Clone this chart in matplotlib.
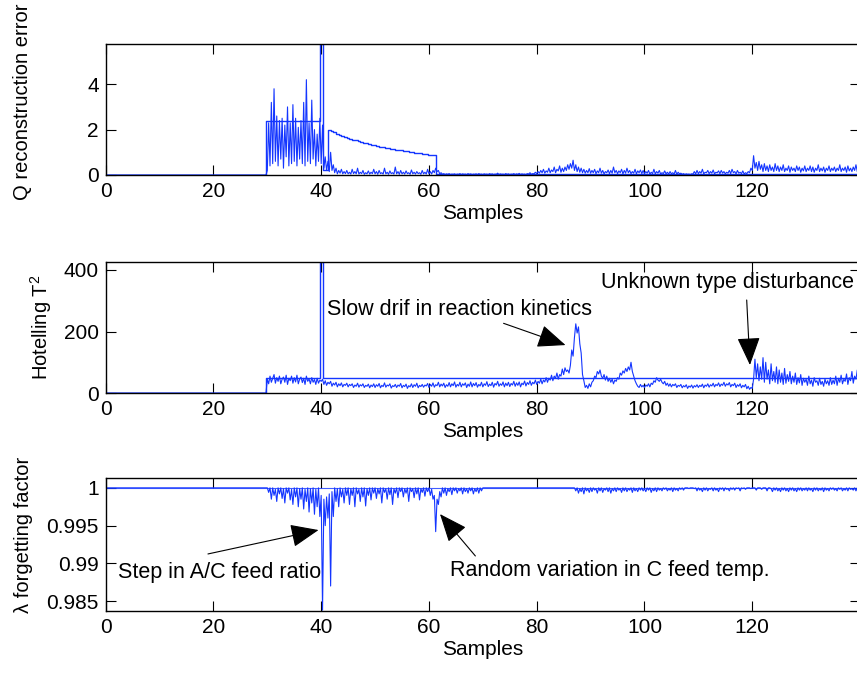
import numpy as np
import matplotlib.pyplot as plt

plt.rcParams['font.family'] = ['Liberation Sans', 'DejaVu Sans']
plt.rcParams['mathtext.fontset'] = 'custom'
plt.rcParams['mathtext.rm'] = 'Liberation Sans'
plt.rcParams['mathtext.it'] = 'Liberation Sans:italic'

# Samples (step 0.25) for the monitored signals
samples = np.arange(0, 140.25, 0.25)
# Samples (step 0.5) for the control limits
lim_samples = np.arange(0, 140.5, 0.5)

# Q reconstruction error
q_err = [0.0] * 120 + [
    0.2, 2.3, 0.4, 3.2, 0.5, 3.8, 0.6, 2.6, 0.4, 2.4, 0.7, 2.5, 0.3, 2.2, 0.8, 3.0, 0.4, 2.3, 0.5, 3.1,
    0.6, 2.5, 0.4, 2.1, 0.7, 2.4, 0.5, 3.2, 0.4, 4.2, 0.6, 2.3, 0.5, 3.3, 0.7, 2.0, 0.4, 1.8, 0.6, 2.5,
    0.5, 2.2, 0.3, 0.8, 0.2, 0.6, 0.15, 1.0, 0.2, 0.45, 0.1, 0.3, 0.05, 0.2, 0.08, 0.25, 0.05, 0.15, 0.06, 0.2,
    0.05, 0.12, 0.04, 0.25, 0.06, 0.15, 0.05, 0.3, 0.04, 0.12, 0.06, 0.2, 0.03, 0.1, 0.05, 0.18, 0.04, 0.12, 0.06, 0.25,
    0.05, 0.15, 0.03, 0.2, 0.06, 0.1, 0.04, 0.3, 0.05, 0.12, 0.03, 0.18, 0.06, 0.1, 0.04, 0.35, 0.05, 0.15, 0.03, 0.2,
    0.05, 0.12, 0.04, 0.18, 0.06, 0.1, 0.03, 0.22, 0.05, 0.12, 0.04, 0.15, 0.06, 0.1, 0.03, 0.2, 0.05, 0.12, 0.04, 0.25,
    0.05, 0.15, 0.04, 0.2, 0.1, 0.3, 0.15, 0.2, 0.05, 0.1, 0.03, 0.06, 0.02, 0.05, 0.03, 0.06, 0.02, 0.04, 0.03, 0.05,
    0.02, 0.04, 0.03, 0.06, 0.02, 0.05, 0.03, 0.04, 0.02, 0.06, 0.03, 0.05, 0.02, 0.04, 0.03, 0.05, 0.02, 0.06, 0.03, 0.04,
    0.02, 0.05, 0.03, 0.04, 0.02, 0.06, 0.03, 0.05, 0.02, 0.04, 0.03, 0.08, 0.02, 0.05, 0.03, 0.04, 0.02, 0.06, 0.03, 0.05,
    0.02, 0.04, 0.03, 0.06, 0.02, 0.05, 0.03, 0.07, 0.02, 0.05, 0.03, 0.04, 0.02, 0.06, 0.04, 0.1, 0.03, 0.06, 0.05, 0.12,
    0.06, 0.15, 0.08, 0.2, 0.1, 0.25, 0.08, 0.18, 0.12, 0.3, 0.1, 0.22, 0.15, 0.35, 0.1, 0.25, 0.18, 0.4, 0.12, 0.3,
    0.15, 0.35, 0.2, 0.45, 0.25, 0.5, 0.3, 0.65, 0.2, 0.45, 0.15, 0.35, 0.12, 0.3, 0.1, 0.25, 0.08, 0.2, 0.1, 0.28,
    0.08, 0.2, 0.1, 0.25, 0.06, 0.18, 0.1, 0.3, 0.08, 0.2, 0.05, 0.15, 0.1, 0.22, 0.06, 0.2, 0.08, 0.35, 0.1, 0.2,
    0.06, 0.18, 0.1, 0.25, 0.05, 0.2, 0.08, 0.3, 0.1, 0.2, 0.06, 0.15, 0.08, 0.25, 0.05, 0.18, 0.1, 0.22, 0.06, 0.2,
    0.05, 0.15, 0.08, 0.2, 0.04, 0.12, 0.06, 0.25, 0.05, 0.15, 0.08, 0.2, 0.04, 0.1, 0.06, 0.18, 0.05, 0.12, 0.04, 0.15,
    0.05, 0.1, 0.04, 0.2, 0.03, 0.12, 0.05, 0.08, 0.03, 0.06, 0.02, 0.05, 0.03, 0.04, 0.02, 0.05, 0.04, 0.15, 0.05, 0.2,
    0.06, 0.15, 0.08, 0.25, 0.05, 0.12, 0.1, 0.2, 0.06, 0.15, 0.08, 0.22, 0.05, 0.12, 0.1, 0.18, 0.06, 0.2, 0.08, 0.15,
    0.05, 0.12, 0.08, 0.2, 0.06, 0.25, 0.1, 0.15, 0.05, 0.2, 0.08, 0.12, 0.06, 0.18, 0.04, 0.1, 0.06, 0.15, 0.1, 0.3,
    0.2, 0.85, 0.3, 0.55, 0.2, 0.6, 0.25, 0.45, 0.15, 0.5, 0.2, 0.4, 0.15, 0.45, 0.2, 0.35, 0.15, 0.5, 0.2, 0.4,
    0.15, 0.35, 0.2, 0.45, 0.15, 0.3, 0.2, 0.4, 0.12, 0.35, 0.2, 0.3, 0.15, 0.4, 0.2, 0.35, 0.12, 0.3, 0.18, 0.4,
    0.15, 0.3, 0.2, 0.4, 0.15, 0.35, 0.12, 0.3, 0.2, 0.45, 0.15, 0.3, 0.18, 0.35, 0.12, 0.3, 0.2, 0.4, 0.15, 0.3,
    0.2, 0.35, 0.15, 0.3, 0.2, 0.45, 0.15, 0.3, 0.2, 0.35, 0.12, 0.4, 0.18, 0.3, 0.15, 0.35, 0.2, 0.45, 0.15, 0.3,
    0.25]

# Q control limit
q_lim = [0.0] * 60 + [2.4] * 20 + [
    5.76, 0.2, 0.2, 1.97, 1.93, 1.88, 1.8, 1.76, 1.72, 1.68, 1.62, 1.58, 1.55, 1.52, 1.48, 1.45, 1.42, 1.39, 1.36, 1.33,
    1.3, 1.28, 1.25, 1.22, 1.2, 1.18, 1.15, 1.13, 1.11, 1.09, 1.08, 1.06, 1.04, 1.02, 1.0, 0.98, 0.96, 0.95, 0.93, 0.92,
    0.9, 0.88, 0.87] + [0.05] * 158

# Hotelling T^2
t2 = [0.0] * 120 + [
    45, 30, 55, 35, 48, 60, 32, 50, 38, 55, 30, 45, 52, 35, 58, 28, 48, 40, 55, 32,
    50, 36, 58, 30, 45, 52, 34, 48, 28, 55, 38, 46, 30, 50, 35, 44, 28, 48, 32, 42,
    38, 45, 28, 40, 25, 35, 30, 38, 22, 32, 26, 35, 20, 30, 24, 33, 20, 28, 25, 32,
    20, 28, 24, 30, 18, 26, 22, 32, 19, 27, 23, 30, 18, 25, 22, 29, 17, 26, 21, 30,
    18, 27, 22, 31, 17, 25, 21, 33, 19, 26, 23, 30, 16, 24, 21, 28, 18, 26, 22, 31,
    17, 25, 21, 29, 15, 24, 20, 30, 18, 27, 22, 32, 17, 25, 21, 28, 19, 26, 23, 31,
    18, 28, 22, 33, 19, 27, 24, 35, 20, 29, 23, 32, 18, 27, 22, 34, 20, 30, 24, 36,
    19, 28, 23, 35, 20, 30, 25, 33, 18, 29, 22, 36, 20, 31, 24, 34, 19, 28, 23, 35,
    20, 30, 25, 37, 21, 29, 24, 35, 19, 31, 26, 38, 22, 30, 25, 36, 20, 32, 24, 35,
    21, 31, 26, 38, 22, 33, 25, 36, 20, 32, 27, 39, 23, 34, 28, 40, 25, 35, 30, 42,
    28, 38, 32, 45, 30, 42, 36, 50, 35, 48, 42, 58, 40, 55, 48, 65, 45, 60, 55, 78,
    60, 82, 70, 75, 65, 90, 140, 120, 180, 225, 195, 215, 160, 130, 60, 40, 18, 25, 15, 30,
    20, 35, 40, 55, 50, 70, 62, 75, 55, 48, 60, 42, 55, 38, 48, 35, 45, 30, 42, 38,
    50, 45, 65, 58, 72, 65, 80, 70, 85, 75, 100, 70, 55, 40, 30, 22, 18, 28, 20, 25,
    18, 26, 22, 30, 20, 32, 28, 40, 35, 50, 42, 38, 45, 35, 30, 38, 25, 32, 22, 30,
    20, 28, 24, 30, 18, 25, 22, 28, 17, 24, 20, 27, 15, 23, 19, 26, 16, 24, 20, 27,
    18, 25, 21, 29, 17, 26, 22, 30, 19, 27, 23, 32, 20, 28, 24, 33, 21, 29, 25, 35,
    22, 30, 26, 34, 20, 28, 24, 32, 18, 27, 22, 30, 17, 25, 20, 28, 14, 22, 12, 18,
    15, 45, 110, 50, 95, 40, 85, 45, 115, 35, 100, 45, 75, 30, 95, 40, 70, 35, 85, 30,
    75, 35, 65, 28, 80, 32, 60, 38, 70, 30, 55, 35, 65, 28, 50, 33, 60, 25, 48, 35,
    45, 25, 55, 30, 42, 22, 50, 35, 40, 25, 48, 28, 38, 22, 45, 30, 40, 25, 50, 28,
    42, 30, 55, 25, 48, 35, 58, 30, 45, 38, 62, 28, 50, 40, 70, 32, 55, 45, 75, 40,
    55]

# T^2 control limit
t2_lim = [0.0] * 60 + [50] * 20 + [426] + [50] * 200

# lambda forgetting factor
lam = [1.0] * 120 + [
    1.0, 0.9994, 1.0, 0.9985, 1.0, 0.9990, 0.9998, 0.9982, 1.0, 0.9992,
    1.0, 0.9986, 0.9999, 0.9980, 1.0, 0.9993, 1.0, 0.9984, 0.9998, 0.9978,
    1.0, 0.9988, 1.0, 0.9975, 0.9999, 0.9985, 1.0, 0.9972, 0.9998, 0.9982,
    1.0, 0.9968, 0.9999, 0.9980, 1.0, 0.9965, 0.9998, 0.9975, 1.0, 0.9962,
    0.9990, 0.9838, 0.9985, 0.9950, 0.9988, 0.9960, 0.9992, 0.9870, 0.9995, 0.9962,
    1.0, 0.9982, 0.9999, 0.9975, 1.0, 0.9988, 0.9998, 0.9980, 1.0, 0.9990,
    1.0, 0.9978, 0.9999, 0.9990, 1.0, 0.9975, 1.0, 0.9992, 0.9998, 0.9982,
    1.0, 0.9988, 1.0, 0.9976, 0.9999, 0.9990, 1.0, 0.9984, 1.0, 0.9993,
    1.0, 0.9986, 0.9999, 0.9992, 1.0, 0.9980, 1.0, 0.9994, 0.9999, 0.9985,
    1.0, 0.9991, 1.0, 0.9978, 0.9999, 0.9993, 1.0, 0.9987, 1.0, 0.9995,
    1.0, 0.9988, 0.9999, 0.9993, 1.0, 0.9982, 1.0, 0.9995, 0.9999, 0.9987,
    1.0, 0.9992, 1.0, 0.9984, 0.9999, 0.9994, 1.0, 0.9989, 1.0, 0.9995,
    1.0, 0.9990, 0.9998, 0.9985, 0.9990, 0.9942, 0.9985, 0.9978, 0.9995, 0.9988,
    1.0, 0.9993, 1.0, 0.9990, 0.9999, 0.9995, 1.0, 0.9991, 1.0, 0.9996,
    1.0, 0.9993, 0.9999, 0.9996, 1.0, 0.9992, 1.0, 0.9995, 0.9999, 0.9993,
    1.0, 0.9996, 1.0, 0.9992, 0.9999, 0.9995, 1.0, 0.9993, 1.0, 0.9996] + [1.0] * 68 + [
    1.0, 0.9996, 1.0, 0.9993, 0.9999, 0.9995, 1.0, 0.9992, 1.0, 0.9996, 0.9999, 0.9994,
    1.0, 0.9995, 1.0, 0.9997, 0.9999, 0.9993, 1.0, 0.9996, 1.0, 0.9994,
    0.9999, 0.9997, 1.0, 0.9995, 1.0, 0.9993, 0.9999, 0.9996, 1.0, 0.9995,
    1.0, 0.9997, 0.9999, 0.9994, 1.0, 0.9996, 1.0, 0.9995, 0.9999, 0.9997,
    1.0, 0.9994, 1.0, 0.9996, 0.9999, 0.9995, 1.0, 0.9997, 1.0, 0.9996,
    0.9999, 0.9995, 1.0, 0.9997, 1.0, 0.9994, 0.9999, 0.9996, 1.0, 0.9995,
    1.0, 0.9997, 0.9999, 0.9996, 1.0, 0.9998, 1.0, 0.9996, 0.9999, 0.9997,
    1.0, 0.9995, 1.0, 0.9997, 0.9999, 0.9996, 1.0, 0.9998, 1.0, 0.9997,
    1.0, 1.0, 1.0, 0.9999, 1.0, 1.0, 1.0, 0.9999, 1.0, 0.9996,
    1.0, 0.9997, 0.9999, 0.9995, 1.0, 0.9997, 1.0, 0.9996, 0.9999, 0.9998,
    1.0, 0.9996, 1.0, 0.9997, 0.9999, 0.9995, 1.0, 0.9998, 1.0, 0.9996,
    1.0, 0.9998, 0.9999, 0.9996, 1.0, 0.9998, 1.0, 0.9997, 1.0, 0.9999,
    1.0, 0.9996, 1.0, 0.9999, 1.0, 0.9998, 1.0, 1.0, 1.0, 0.9999,
    1.0, 1.0, 1.0, 0.9997, 1.0, 1.0, 1.0, 0.9998, 1.0, 1.0,
    1.0, 0.9996, 1.0, 1.0, 0.9999, 0.9995, 1.0, 0.9997, 1.0, 0.9996,
    0.9999, 0.9995, 1.0, 0.9997, 1.0, 0.9996, 0.9999, 0.9995, 1.0, 0.9997,
    1.0, 0.9996, 0.9999, 0.9995, 1.0, 0.9997, 1.0, 0.9996, 0.9999, 0.9997,
    1.0, 0.9996, 1.0, 0.9997, 0.9999, 0.9995, 1.0, 0.9997, 1.0, 0.9996,
    0.9999, 0.9997, 1.0, 0.9995, 1.0, 0.9997, 0.9999, 0.9996, 1.0, 0.9998,
    1.0, 0.9997, 0.9999, 0.9996, 1.0, 0.9998, 1.0, 0.9996, 0.9999, 0.9997,
    1.0, 0.9996, 1.0, 0.9998, 0.9999, 0.9997, 1.0, 0.9996, 1.0, 0.9998,
    1.0]
lam_ref = 1.0

x_ticks = [0, 20, 40, 60, 80, 100, 120]
q_ticks = [0, 2, 4]
t2_ticks = [0, 200, 400]
lam_ticks = [0.985, 0.99, 0.995, 1.0]
lam_ticklabels = ['0.985', '0.99', '0.995', '1']

blue = '#1436ff'
fs = 15
fs_ylab = 14.5
fs_note = 15.5

fig = plt.figure(figsize=(8.57, 6.73), dpi=100)
ax1 = fig.add_axes([0.1233, 0.7400, 0.8802, 0.1942])
ax2 = fig.add_axes([0.1233, 0.4160, 0.8802, 0.1947])
ax3 = fig.add_axes([0.1233, 0.0921, 0.8802, 0.1976])

ax1.plot(samples, q_err, color=blue, lw=0.8)
ax1.plot(lim_samples, q_lim, color=blue, lw=1.0, drawstyle='steps-mid')
ax1.set_ylim(0, 5.76)
ax1.set_yticks(q_ticks)
ax1.set_ylabel('Q reconstruction error', fontsize=fs_ylab)

ax2.plot(samples, t2, color=blue, lw=0.8)
ax2.plot(lim_samples, t2_lim, color=blue, lw=1.0, drawstyle='steps-mid')
ax2.set_ylim(0, 426)
ax2.set_yticks(t2_ticks)
ax2.set_ylabel('Hotelling T$^2$', fontsize=fs_ylab)

ax3.plot(samples, lam, color=blue, lw=0.8)
ax3.axhline(lam_ref, color=blue, lw=0.8, alpha=0.8)
ax3.set_ylim(0.98369, 1.0013)
ax3.set_yticks(lam_ticks)
ax3.set_yticklabels(lam_ticklabels)
ax3.set_ylabel('λ forgetting factor', fontsize=fs_ylab)

for ax in (ax1, ax2, ax3):
    ax.set_xlim(0, 140)
    ax.set_xticks(x_ticks)
    ax.set_xlabel('Samples', fontsize=fs, labelpad=2)
    ax.tick_params(direction='in', top=True, right=True, length=7, width=0.8,
                   labelsize=fs, pad=5)
    for s in ax.spines.values():
        s.set_linewidth(1.0)

ax1.yaxis.set_label_coords(-0.097, 0.56)
ax2.yaxis.set_label_coords(-0.069, 0.5)
ax3.yaxis.set_label_coords(-0.096, 0.57)

arrow = dict(arrowstyle='-|>,head_length=0.8,head_width=0.33', color='k', lw=0.8,
             shrinkA=0, shrinkB=0, mutation_scale=22)

ax2.text(0.293, 0.639, 'Slow drif in reaction kinetics', transform=ax2.transAxes,
         fontsize=fs_note, va='center', ha='left')
ax2.annotate('', xy=(0.6096, 0.366), xytext=(0.5275, 0.532),
             xycoords='axes fraction', arrowprops=arrow)
ax2.text(0.657, 0.842, 'Unknown type disturbance', transform=ax2.transAxes,
         fontsize=fs_note, va='center', ha='left')
ax2.annotate('', xy=(0.8541, 0.214), xytext=(0.8498, 0.710),
             xycoords='axes fraction', arrowprops=arrow)

ax3.text(0.0163, 0.293, 'Step in A/C feed ratio', transform=ax3.transAxes,
         fontsize=fs_note, va='center', ha='left')
ax3.annotate('', xy=(0.2822, 0.609), xytext=(0.1356, 0.429),
             xycoords='axes fraction', arrowprops=arrow)
ax3.text(0.4559, 0.308, 'Random variation in C feed temp.', transform=ax3.transAxes,
         fontsize=fs_note, va='center', ha='left')
ax3.annotate('', xy=(0.4432, 0.729), xytext=(0.4901, 0.414),
             xycoords='axes fraction', arrowprops=arrow)

plt.savefig('out.png', dpi=100)
